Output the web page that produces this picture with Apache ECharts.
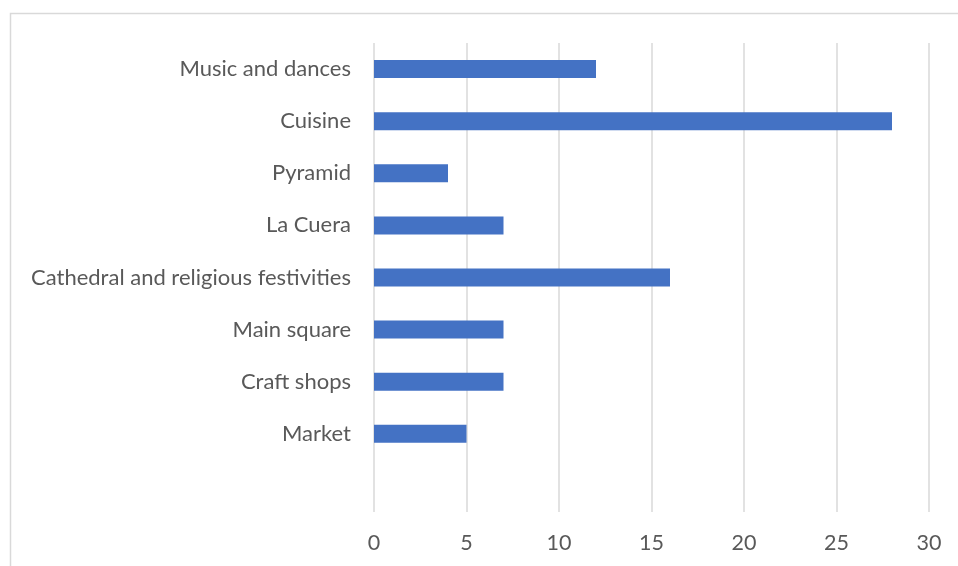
<!DOCTYPE html>
<html>
<head>
<meta charset="utf-8">
<script src="https://cdn.jsdelivr.net/npm/echarts@6/dist/echarts.min.js"></script>
<style>
  html, body { margin: 0; padding: 0; background: #ffffff; }
  #chart { width: 958px; height: 566px; }
</style>
</head>
<body>
<div id="chart"></div>
<script>
// Attractions, listed top to bottom; the last slot is left empty
const categories = [
  'Music and dances',
  'Cuisine',
  'Pyramid',
  'La Cuera',
  'Cathedral and religious festivities',
  'Main square',
  'Craft shops',
  'Market',
  ''
];
const counts = [12, 28, 4, 7, 16, 7, 7, 5, null];
const xTicks = { min: 0, max: 30, interval: 5 };

const chart = echarts.init(document.getElementById('chart'), null, { renderer: 'canvas' });

const textColor = '#595959';
const gridColor = '#d9d9d9';
const fontFamily = 'Lato, "Open Sans", sans-serif';

chart.setOption({
  animation: false,
  backgroundColor: '#ffffff',
  graphic: [{
    type: 'rect',
    shape: { x: 10.5, y: 13.5, width: 1000, height: 600 },
    style: { fill: 'none', stroke: gridColor, lineWidth: 1.5 },
    silent: true
  }],
  grid: { left: 374, right: 29, top: 43, bottom: 54, containLabel: false },
  xAxis: {
    type: 'value',
    min: xTicks.min,
    max: xTicks.max,
    interval: xTicks.interval,
    axisLine: { show: false },
    axisTick: { show: false },
    axisLabel: { color: textColor, fontSize: 21.5, fontFamily: fontFamily, margin: 20 },
    splitLine: { show: true, lineStyle: { color: gridColor, width: 1.5 } }
  },
  yAxis: {
    type: 'category',
    data: categories,
    inverse: true,
    axisLine: { show: false },
    axisTick: { show: false },
    axisLabel: { color: textColor, fontSize: 22, fontFamily: fontFamily, margin: 23 },
    splitLine: { show: false }
  },
  series: [{
    type: 'bar',
    data: counts,
    barWidth: 18,
    itemStyle: { color: '#4472C4' }
  }]
});
</script>
</body>
</html>
